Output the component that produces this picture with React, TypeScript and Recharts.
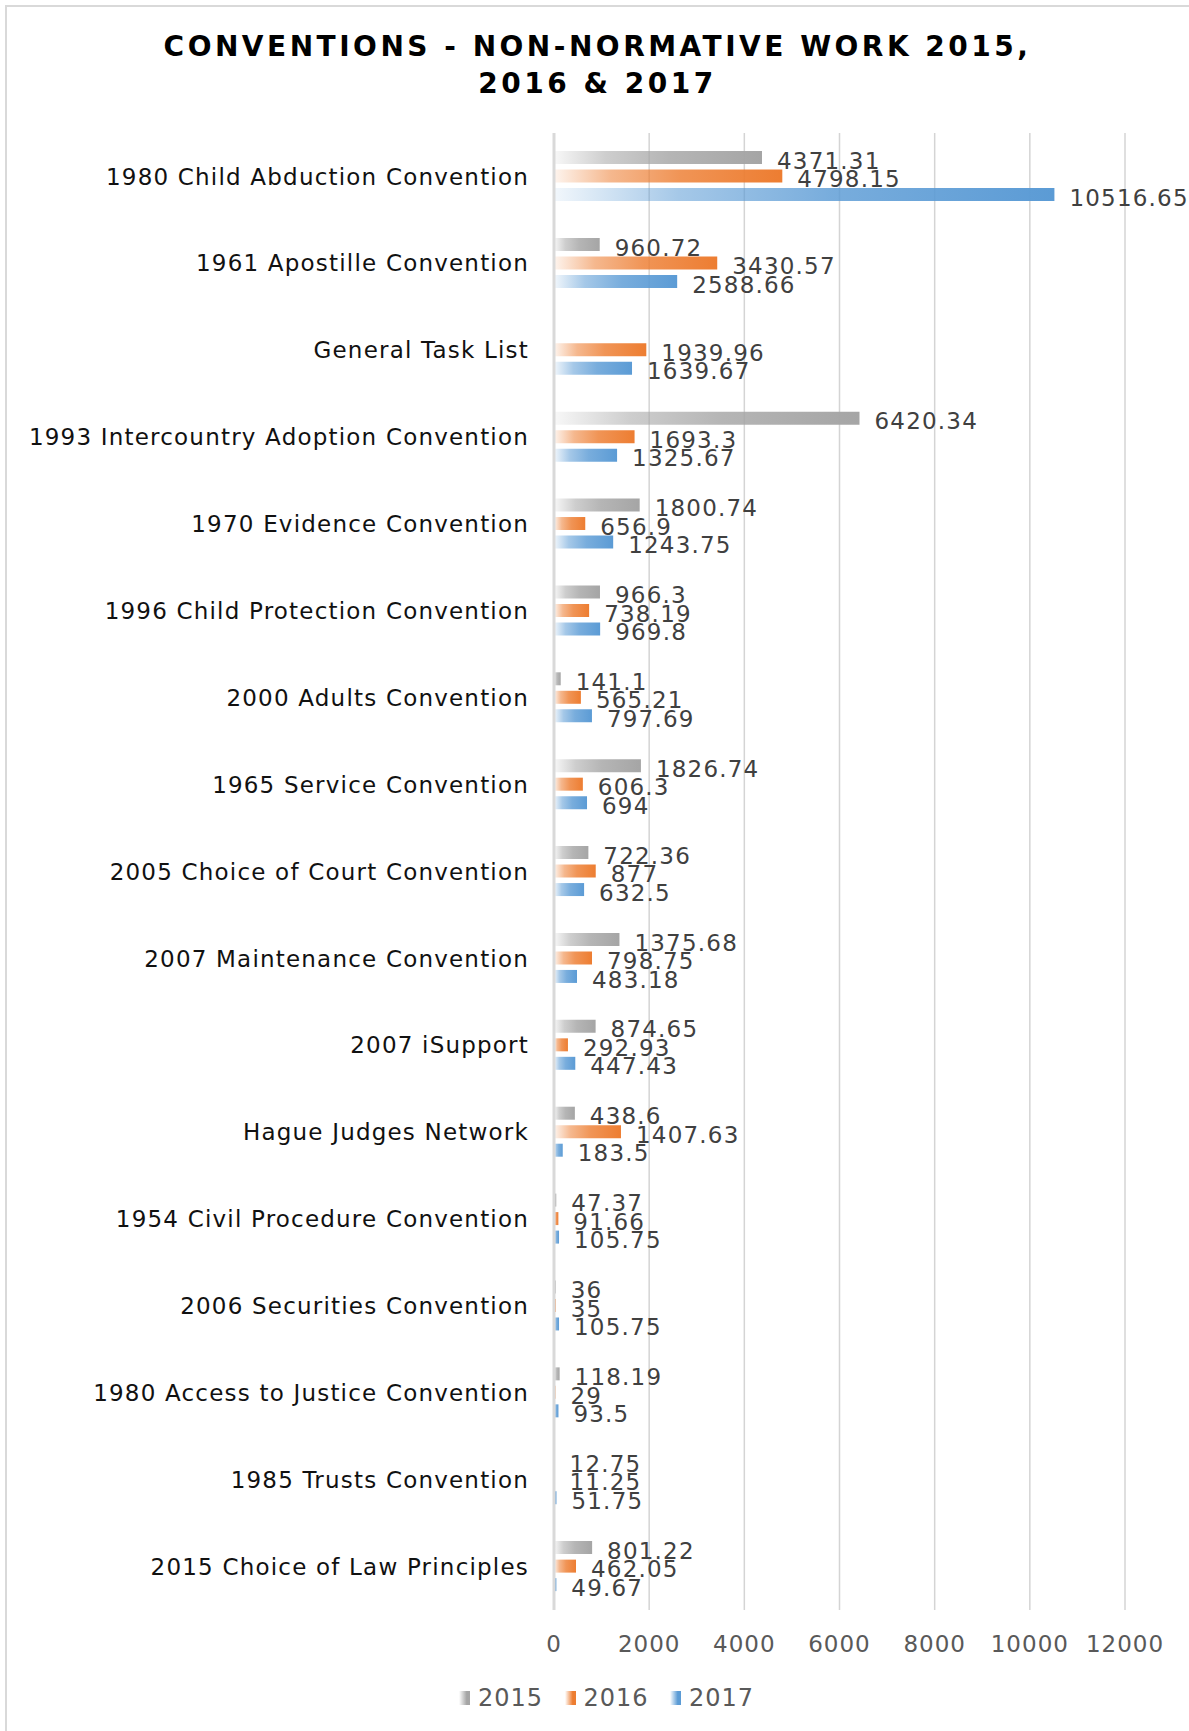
import React from 'react';
import { BarChart, Bar, XAxis, YAxis, CartesianGrid, LabelList } from 'recharts';

const categories = [
  '1980 Child Abduction Convention',
  '1961 Apostille Convention',
  'General Task List',
  '1993 Intercountry Adoption Convention',
  '1970 Evidence Convention',
  '1996 Child Protection Convention',
  '2000 Adults Convention',
  '1965 Service Convention',
  '2005 Choice of Court Convention',
  '2007 Maintenance Convention',
  '2007 iSupport',
  'Hague Judges Network',
  '1954 Civil Procedure Convention',
  '2006 Securities Convention',
  '1980 Access to Justice Convention',
  '1985 Trusts Convention',
  '2015 Choice of Law Principles',
];

const values2015: (number | null)[] = [4371.31, 960.72, null, 6420.34, 1800.74, 966.3, 141.1, 1826.74, 722.36, 1375.68, 874.65, 438.6, 47.37, 36, 118.19, 12.75, 801.22];
const values2016: (number | null)[] = [4798.15, 3430.57, 1939.96, 1693.3, 656.9, 738.19, 565.21, 606.3, 877, 798.75, 292.93, 1407.63, 91.66, 35, 29, 11.25, 462.05];
const values2017: (number | null)[] = [10516.65, 2588.66, 1639.67, 1325.67, 1243.75, 969.8, 797.69, 694, 632.5, 483.18, 447.43, 183.5, 105.75, 105.75, 93.5, 51.75, 49.67];

const xTicks = [0, 2000, 4000, 6000, 8000, 10000, 12000];
const seriesNames = ['2015', '2016', '2017'];
const seriesKeys = ['y2015', 'y2016', 'y2017'];
const seriesColors = ['#A5A5A5', '#ED7D31', '#5B9BD5'];
const gradIds = ['gGray', 'gOrange', 'gBlue'];

const data = categories.map((name, i) => ({
  name,
  y2015: values2015[i],
  y2016: values2016[i],
  y2017: values2017[i],
}));

const FONT = '"DejaVu Sans", Verdana, sans-serif';
const fmt = (v: any) => (v === null || v === undefined ? '' : String(v));

export default function App() {
  return (
    <div style={{ position: 'absolute', left: 0, top: 0, width: 1189, height: 1731, overflow: 'hidden', background: '#fff', fontFamily: FONT }}>
      <svg width={0} height={0} style={{ position: 'absolute' }}>
        <defs>
          {seriesColors.map((c, i) => (
            <linearGradient key={gradIds[i]} id={gradIds[i]} x1="0" y1="0" x2="1" y2="0">
              <stop offset="0%" stopColor={c} stopOpacity={0.08} />
              <stop offset="25%" stopColor={c} stopOpacity={0.55} />
              <stop offset="55%" stopColor={c} stopOpacity={0.82} />
              <stop offset="100%" stopColor={c} stopOpacity={1} />
            </linearGradient>
          ))}
        </defs>
      </svg>
      <div style={{ position: 'absolute', left: 5, top: 5, width: 1220, height: 1760, border: '2px solid #d9d9d9', boxSizing: 'border-box' }} />
      <div style={{ position: 'absolute', left: 6, width: 1183, top: 28, textAlign: 'center', fontWeight: 'bold', fontSize: 28, letterSpacing: 3.5, lineHeight: '37px', color: '#000' }}>
        <div>CONVENTIONS - NON-NORMATIVE WORK 2015,</div>
        <div>2016 &amp; 2017</div>
      </div>
      <div style={{ position: 'absolute', left: 0, top: 0 }}>
        <BarChart
          width={1189}
          height={1731}
          layout="vertical"
          data={data}
          margin={{ top: 133, right: 64, bottom: 60, left: 0 }}
          barSize={13}
          barGap={5.5}
        >
          <CartesianGrid horizontal={false} vertical={true} stroke="#d4d4d4" strokeWidth={1.5} />
          <XAxis
            type="number"
            domain={[0, 12000]}
            ticks={xTicks}
            axisLine={false}
            tickLine={false}
            tickSize={0}
            tickMargin={26}
            height={61}
            tick={{ fill: '#595959', fontSize: 23, fontFamily: FONT, letterSpacing: 1 }}
          />
          <YAxis
            type="category"
            dataKey="name"
            width={554}
            interval={0}
            tickLine={false}
            tickSize={0}
            tickMargin={25}
            axisLine={{ stroke: '#d9d9d9', strokeWidth: 3 }}
            tick={{ fill: '#111111', fontSize: 23, fontFamily: FONT, letterSpacing: 1.2 }}
          />
          {seriesKeys.map((k, i) => (
            <Bar key={k} dataKey={k} name={seriesNames[i]} fill={`url(#${gradIds[i]})`} isAnimationActive={false}>
              <LabelList
                dataKey={k}
                position="right"
                offset={15}
                formatter={fmt}
                fill="#404040"
                fontSize={23}
                fontFamily={FONT}
                letterSpacing={1.2}
                dy={3}
              />
            </Bar>
          ))}
        </BarChart>
      </div>
      {seriesNames.map((n, i) => (
        <div key={n} style={{ position: 'absolute', left: 459 + i * 105.5, top: 1684, height: 28, display: 'flex', alignItems: 'center' }}>
          <div style={{ width: 11, height: 14, background: `linear-gradient(to right, #fff, ${seriesColors[i]} 70%)`, marginRight: 8 }} />
          <span style={{ fontSize: 24, color: '#595959', letterSpacing: 1 }}>{n}</span>
        </div>
      ))}
    </div>
  );
}
